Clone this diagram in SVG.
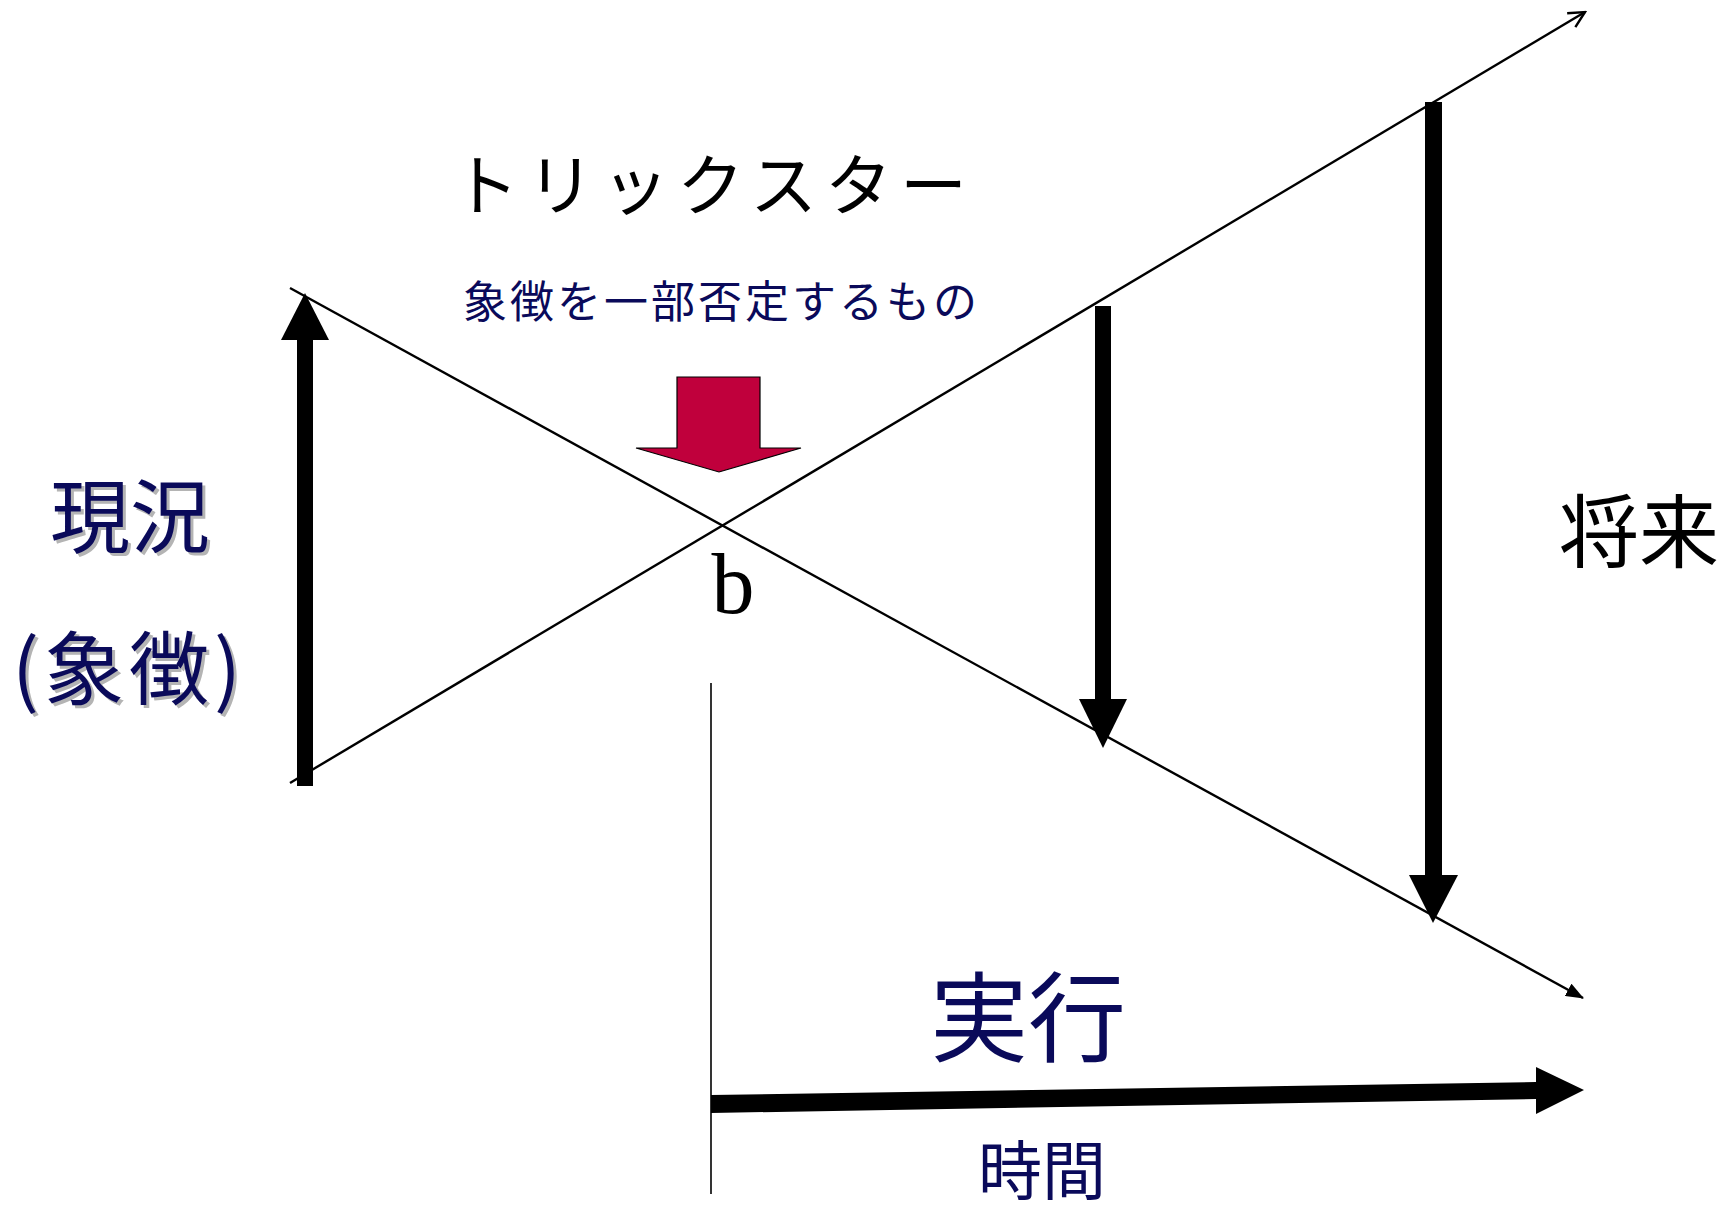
<svg xmlns="http://www.w3.org/2000/svg" width="1733" height="1213" viewBox="0 0 1733 1213">
<defs>
<style>
.jp{font-family:"Noto Sans CJK JP","Noto Sans CJK SC",sans-serif}
.navy{fill:#0a0a5a}
.shadow{fill:#b4b4b4}
.thin{stroke:#000;stroke-width:2.4;fill:none}
.blk{fill:#000}
</style>
<marker id="openHead" viewBox="0 0 20 20" refX="18" refY="10" markerWidth="20" markerHeight="20" markerUnits="userSpaceOnUse" orient="auto">
<path d="M2,2 L18,10 L2,18" fill="none" stroke="#000" stroke-width="2.4"/>
</marker>
<marker id="solidHead" viewBox="0 0 18 14" refX="17" refY="7" markerWidth="18" markerHeight="14" markerUnits="userSpaceOnUse" orient="auto">
<path d="M0,0 L18,7 L0,14 Z" fill="#000"/>
</marker>
</defs>
<rect width="1733" height="1213" fill="#fff"/>

<g id="connectors">
<line class="thin" x1="290" y1="288" x2="1583" y2="998" marker-end="url(#solidHead)"/>
<line class="thin" x1="290" y1="783" x2="1585" y2="12" marker-end="url(#openHead)"/>
<line x1="711" y1="683" x2="711" y2="1194" stroke="#000" stroke-width="1.6"/>
</g>

<g id="arrow-present-up">
<rect class="blk" x="297" y="338" width="16" height="448"/>
<polygon class="blk" points="281,340 329,340 305,293"/>
</g>
<g id="arrow-mid-down">
<rect class="blk" x="1095" y="306" width="16" height="396"/>
<polygon class="blk" points="1079,699 1127,699 1103,748"/>
</g>
<g id="arrow-right-down">
<rect class="blk" x="1425" y="102" width="17" height="776"/>
<polygon class="blk" points="1409,875 1458,875 1433,923"/>
</g>
<g id="arrow-time">
<polygon class="blk" points="711,1095 1536,1082 1536,1067 1584,1090 1536,1114 1536,1099 711,1113"/>
</g>
<g id="trickster-arrow">
<polygon points="677,377 760,377 760,448 801,448 719,472 636,448 677,448" fill="#c0003c" stroke="#000" stroke-width="1.2"/>
</g>

<g id="label-trickster">
<text class="jp" x="452" y="210" font-size="67" letter-spacing="8" fill="#000">トリックスター</text>
</g>
<g id="label-negation">
<text class="jp navy" x="463" y="318" font-size="44" letter-spacing="3">象徴を一部否定するもの</text>
</g>
<g id="label-present">
<text class="jp shadow" x="133" y="549" font-size="80" text-anchor="middle">現況</text>
<text class="jp navy" x="130" y="546" font-size="80" text-anchor="middle">現況</text>
<text class="jp shadow" x="132" y="701" font-size="80" text-anchor="middle" letter-spacing="5">(象徴)</text>
<text class="jp navy" x="129" y="698" font-size="80" text-anchor="middle" letter-spacing="5">(象徴)</text>
</g>
<g id="label-b">
<text x="733" y="613" font-family="'Liberation Serif',serif" font-size="86" text-anchor="middle" fill="#000">b</text>
</g>
<g id="label-future">
<text class="jp" x="1639" y="561" font-size="80" text-anchor="middle" fill="#000">将来</text>
</g>
<g id="label-execution">
<text class="jp navy" x="1028" y="1054" font-size="98" text-anchor="middle">実行</text>
</g>
<g id="label-time">
<text class="jp navy" x="1042" y="1194" font-size="64" text-anchor="middle">時間</text>
</g>
</svg>
